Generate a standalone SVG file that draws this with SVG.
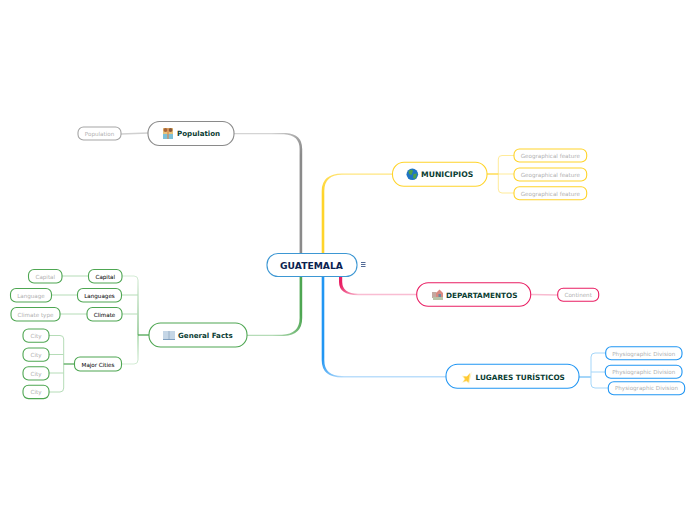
<svg xmlns="http://www.w3.org/2000/svg" width="696" height="520" viewBox="0 0 696 520">
<style>
text{font-family:"DejaVu Sans",Verdana,sans-serif;text-anchor:middle}
.n{fill:#fff;stroke-width:1.1}
.m{font-size:7.3px;font-weight:700;fill:#0b3d33;text-anchor:start}
.t{font-size:7.1px;font-weight:700;fill:#0b3d33;text-anchor:start}
.s{font-size:5.6px;font-weight:400;fill:#111;stroke:#111;stroke-width:.06}
.l{font-size:5.6px;fill:#b0b0b0}
.c{fill:none}
.y{stroke:#ffd42a}.yl{stroke:#ffeb99}
.p{stroke:#e91e63}.pl{stroke:#f8bbd0}
.b{stroke:#2196f3}.bl{stroke:#a5d6f9}
.g{stroke:#4ea652}.gl{stroke:#b5dcb7}
.a{stroke:#8a8a8a}.al{stroke:#d0d0d0}
</style>
<defs>
<linearGradient id="gA" gradientUnits="userSpaceOnUse" x1="301" y1="155" x2="272" y2="133"><stop offset="0" stop-color="#8a8a8a"/><stop offset="1" stop-color="#d4d4d4"/></linearGradient>
<linearGradient id="gY" gradientUnits="userSpaceOnUse" x1="323" y1="195" x2="345" y2="174"><stop offset="0" stop-color="#ffd42a"/><stop offset="1" stop-color="#ffe680"/></linearGradient>
<linearGradient id="gP" gradientUnits="userSpaceOnUse" x1="341" y1="284" x2="358" y2="295"><stop offset="0" stop-color="#e91e63"/><stop offset="1" stop-color="#f9bdd2"/></linearGradient>
<linearGradient id="gB" gradientUnits="userSpaceOnUse" x1="323" y1="358" x2="344" y2="377"><stop offset="0" stop-color="#2196f3"/><stop offset="1" stop-color="#bbdefb"/></linearGradient>
<linearGradient id="gG" gradientUnits="userSpaceOnUse" x1="301" y1="315" x2="272" y2="335"><stop offset="0" stop-color="#4ea652"/><stop offset="1" stop-color="#b5dcb7"/></linearGradient>
<linearGradient id="gF" gradientUnits="userSpaceOnUse" x1="138" y1="335" x2="138" y2="276"><stop offset="0" stop-color="#4ea652"/><stop offset="1" stop-color="#d5ecd6"/></linearGradient>
<linearGradient id="gF2" gradientUnits="userSpaceOnUse" x1="138" y1="335" x2="138" y2="364"><stop offset="0" stop-color="#7cc47f"/><stop offset="1" stop-color="#d5ecd6"/></linearGradient>
<radialGradient id="glow"><stop offset="0" stop-color="#ffd23c"/><stop offset="1" stop-color="#ffe9a0" stop-opacity=".3"/></radialGradient>
</defs>
<g id="connectors">
<path fill="url(#gA)" d="M302.200 254V149Q302.200 134 286 133H234V134.200H284Q299.600 135 299.600 149V254Z"/>
<path fill="url(#gG)" d="M302.200 276V318Q302.200 335 284 336H247V334.800H282Q299.600 334 299.600 318V276Z"/>
<path fill="url(#gY)" d="M324.300 254V191Q324.300 175 342 174.800H392V173.600H342Q321.700 174 321.700 191V254Z"/>
<path fill="url(#gB)" d="M324.300 276V360Q324.300 376 342 376H446V377.400H342Q321.700 377.400 321.700 360V276Z"/>
<path fill="url(#gP)" d="M342.200 276V282Q342.500 293.600 358 293.800H417V295.200H358Q339 295 339 282V276Z"/>
<path class="c al" stroke-width="1.4" d="M121 134L148 133"/>
<g class="c">
<path class="yl" d="M514 155.500H502Q498.300 155.500 498.300 159V189Q498.300 193 502 193H514M498.300 174H514"/>
<path class="y" stroke-width="1.2" d="M487 174H498.300"/>
<path class="pl" stroke-width="1.300" d="M531 294.500L558 295"/>
<path class="bl" d="M605.700 353H595Q591 353 591 357V384Q591 388 595 388H608.300M591 372H605.300"/>
<path class="bl" stroke-width="2" d="M579 377H591"/>
<path stroke="url(#gF)" d="M138 335V280Q138 276 134 276H122"/>
<path stroke="url(#gF2)" d="M138 335V360Q138 364 134 364H121.500"/>
<path class="gl" d="M121.500 295H138M122 314H138"/>
<path class="g" stroke-width="1.300" d="M149 335H138"/>
<path class="gl" d="M62 276H88.500M51.500 295H77.500M60 314H87"/>
<path class="gl" d="M49 335.500H60Q63.700 335.500 63.700 339V388Q63.700 392 60 392H49M49 354.500H63.700M49 373H63.700"/>
<path class="g" stroke-width="1.200" d="M74.500 364H63.700"/>
</g>
</g>
<g id="root">
<rect class="n" x="267" y="253.500" width="90" height="23" rx="11" stroke="#3d97d3"/>
<text x="311.500" y="269" font-size="9.200" font-weight="700" fill="#0b2350">GUATEMALA</text>
<path d="M361 262.500H365.500M361 264.500H365.500M361 266.500H365.500" stroke="#3f5a8a" stroke-width=".9" fill="none"/>
</g>
<g id="population">
<rect class="n" x="148" y="121.500" width="86" height="24" rx="11.500" stroke="#8a8a8a"/>
<rect x="163" y="128" width="10" height="11" fill="#e8c27a"/><rect x="163" y="134" width="10" height="5" fill="#7cc0d8"/><circle cx="165.500" cy="130" r="2" fill="#a8653a"/><circle cx="170.500" cy="130" r="2" fill="#8a5a3a"/><path d="M168 128V139" stroke="#d9884f" stroke-width="1.200"/>
<text class="t" x="177" y="136">Population</text>
</g>
<g id="population-leaf">
<rect class="n" x="78" y="127" width="43" height="13" rx="5.500" stroke="#a5a5a5"/>
<text class="l" x="99.500" y="135.600">Population</text>
</g>
<g id="municipios">
<rect class="n" x="392.500" y="162.300" width="94.500" height="24" rx="11.500" stroke="#ffd42a"/>
<circle cx="412.300" cy="174.300" r="5.800" fill="#1f74c4"/><path d="M408.500 171Q412 168.500 413 171L411.500 175L409 174ZM413.500 174L417 173.500L415.500 179L413 178Z" fill="#4fa04a"/>
<text class="m" x="421" y="177" style="font-size:7.7px">MUNICIPIOS</text>
</g>
<g id="geo1"><rect class="n" x="514" y="149" width="72.700" height="13" rx="5.500" stroke="#ffd42a"/><text class="l" x="550.300" y="158">Geographical feature</text></g>
<g id="geo2"><rect class="n" x="514" y="168" width="72.700" height="13" rx="5.500" stroke="#ffd42a"/><text class="l" x="550.300" y="177">Geographical feature</text></g>
<g id="geo3"><rect class="n" x="514" y="186.700" width="72.700" height="13" rx="5.500" stroke="#ffd42a"/><text class="l" x="550.300" y="195.800">Geographical feature</text></g>
<g id="departamentos">
<rect class="n" x="416.700" y="282.700" width="114" height="23.500" rx="11.500" stroke="#e91e63"/>
<rect x="432" y="292" width="4.500" height="6" fill="#c4a8a0"/><path d="M436 293L439.500 289.500L443 293V300H436Z" fill="#d98a80"/><rect x="433" y="297" width="10" height="3" fill="#b8c4a8"/><rect x="438.500" y="294" width="2.500" height="3" fill="#6a8aa0"/>
<text class="m" x="446" y="298">DEPARTAMENTOS</text>
</g>
<g id="continent"><rect class="n" x="557.700" y="288.300" width="41" height="13" rx="5.500" stroke="#e91e63"/><text class="l" x="578.200" y="297">Continent</text></g>
<g id="lugares">
<rect class="n" x="446" y="364.300" width="133" height="24" rx="11.500" stroke="#2196f3"/>
<path d="M472.500 370.500L467.500 376.500L461.500 375.500L464.500 379L461 383.500L466.500 381.500L469.500 384.500L470 379.500Z" fill="url(#glow)"/><path d="M470 373L466.500 377L463.500 376.500L465.500 379L463 382L466.500 380.500L468.500 382.500L468.800 379Z" fill="#ffc933"/>
<text class="m" x="475.500" y="380">LUGARES TURÍSTICOS</text>
</g>
<g id="phys1"><rect class="n" x="605.700" y="346.700" width="76.300" height="13" rx="5.500" stroke="#2196f3"/><text class="l" x="643.800" y="355.500">Physiographic Division</text></g>
<g id="phys2"><rect class="n" x="605.300" y="365.300" width="76.700" height="13" rx="5.500" stroke="#2196f3"/><text class="l" x="643.800" y="374">Physiographic Division</text></g>
<g id="phys3"><rect class="n" x="608.300" y="381.700" width="76.400" height="13" rx="5.500" stroke="#2196f3"/><text class="l" x="646.500" y="390.300">Physiographic Division</text></g>
<g id="general-facts">
<rect class="n" x="149" y="323" width="98" height="24" rx="11.500" stroke="#4ea652"/>
<rect x="163" y="331" width="12" height="8.500" fill="#c5d6e6"/><path d="M169 331V339.500" stroke="#8fa8c0" stroke-width=".8"/><path d="M163 339.500H175" stroke="#7f9fc0"/>
<text class="t" x="178" y="338">General Facts</text>
</g>
<g id="capital"><rect class="n" x="88.500" y="269.500" width="33.500" height="13.500" rx="5.500" stroke="#4ea652"/><text class="s" x="105.300" y="279">Capital</text></g>
<g id="languages"><rect class="n" x="77.500" y="288.500" width="44" height="13.500" rx="5.500" stroke="#4ea652"/><text class="s" x="99.500" y="298">Languages</text></g>
<g id="climate"><rect class="n" x="87" y="307.500" width="35" height="13.500" rx="5.500" stroke="#4ea652"/><text class="s" x="104.500" y="316.500">Climate</text></g>
<g id="major-cities"><rect class="n" x="74.500" y="357" width="47" height="14" rx="5.500" stroke="#4ea652"/><text class="s" x="98" y="366.500">Major Cities</text></g>
<g id="capital-leaf"><rect class="n" x="28.500" y="269.500" width="33.500" height="13.500" rx="5.500" stroke="#4ea652"/><text class="l" x="45.300" y="279">Capital</text></g>
<g id="language-leaf"><rect class="n" x="10.500" y="288.500" width="41" height="13.500" rx="5.500" stroke="#4ea652"/><text class="l" x="31" y="298">Language</text></g>
<g id="climate-leaf"><rect class="n" x="11" y="307.500" width="49" height="13.500" rx="5.500" stroke="#4ea652"/><text class="l" x="35.500" y="316.500">Climate type</text></g>
<g id="city1"><rect class="n" x="23" y="329" width="26" height="13.300" rx="5.500" stroke="#4ea652"/><text class="l" x="36" y="338">City</text></g>
<g id="city2"><rect class="n" x="23" y="348" width="26" height="13.300" rx="5.500" stroke="#4ea652"/><text class="l" x="36" y="357">City</text></g>
<g id="city3"><rect class="n" x="23" y="366.700" width="26" height="13.300" rx="5.500" stroke="#4ea652"/><text class="l" x="36" y="376">City</text></g>
<g id="city4"><rect class="n" x="23" y="385.300" width="26" height="13.300" rx="5.500" stroke="#4ea652"/><text class="l" x="36" y="394">City</text></g>
</svg>
